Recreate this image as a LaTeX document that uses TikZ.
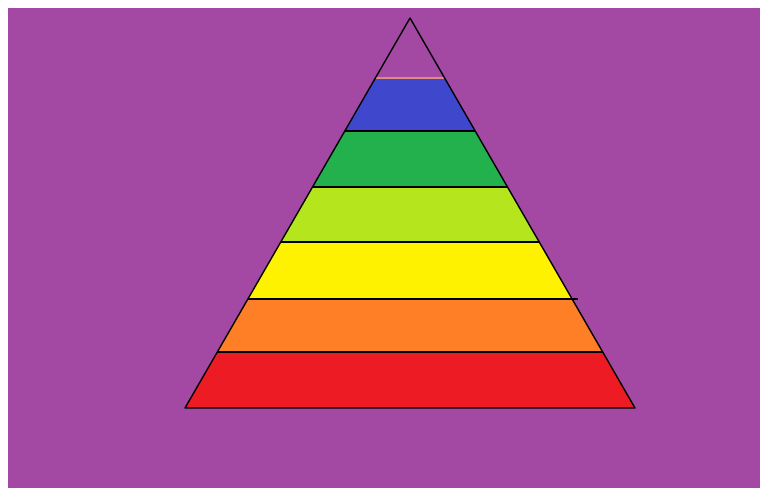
\documentclass[tikz,border=0pt]{standalone}
\definecolor{bgpurple}{HTML}{A349A4}
\definecolor{pblue}{HTML}{3F48CC}
\definecolor{pgreen}{HTML}{22B14C}
\definecolor{plime}{HTML}{B5E61D}
\definecolor{pyellow}{HTML}{FFF200}
\definecolor{porange}{HTML}{FF7F27}
\definecolor{pred}{HTML}{ED1C24}
\definecolor{pline}{HTML}{E08A7A}
\begin{document}
\begin{tikzpicture}[x=1pt,y=-1pt,
  edge/.style={draw=black,line width=1.4pt,line join=round}]
\useasboundingbox (0,0) rectangle (760,488);
\fill[white] (0,0) rectangle (760,488);
\fill[bgpurple] (8,8) rectangle (760,488);
\coordinate (apex) at (410,18);
\coordinate (bl) at (185,408);
\coordinate (br) at (635,408);
\begin{scope}
\clip (apex) -- (bl) -- (br) -- cycle;
\fill[pblue] (150,78) rectangle (700,131);
\fill[pgreen] (150,131) rectangle (700,187);
\fill[plime] (150,187) rectangle (700,242);
\fill[pyellow] (150,242) rectangle (700,299);
\fill[porange] (150,299) rectangle (700,352);
\fill[pred] (150,352) rectangle (700,408);
\draw[pline,line width=1.4pt] (150,78) -- (700,78);
\draw[edge] (150,131) -- (700,131);
\draw[edge] (150,187) -- (700,187);
\draw[edge] (150,242) -- (700,242);
\draw[edge] (150,352) -- (700,352);
\end{scope}
\draw[edge] (247.9,299) -- (578,299);
\draw[edge] (apex) -- (bl) -- (br) -- cycle;
\end{tikzpicture}
\end{document}
